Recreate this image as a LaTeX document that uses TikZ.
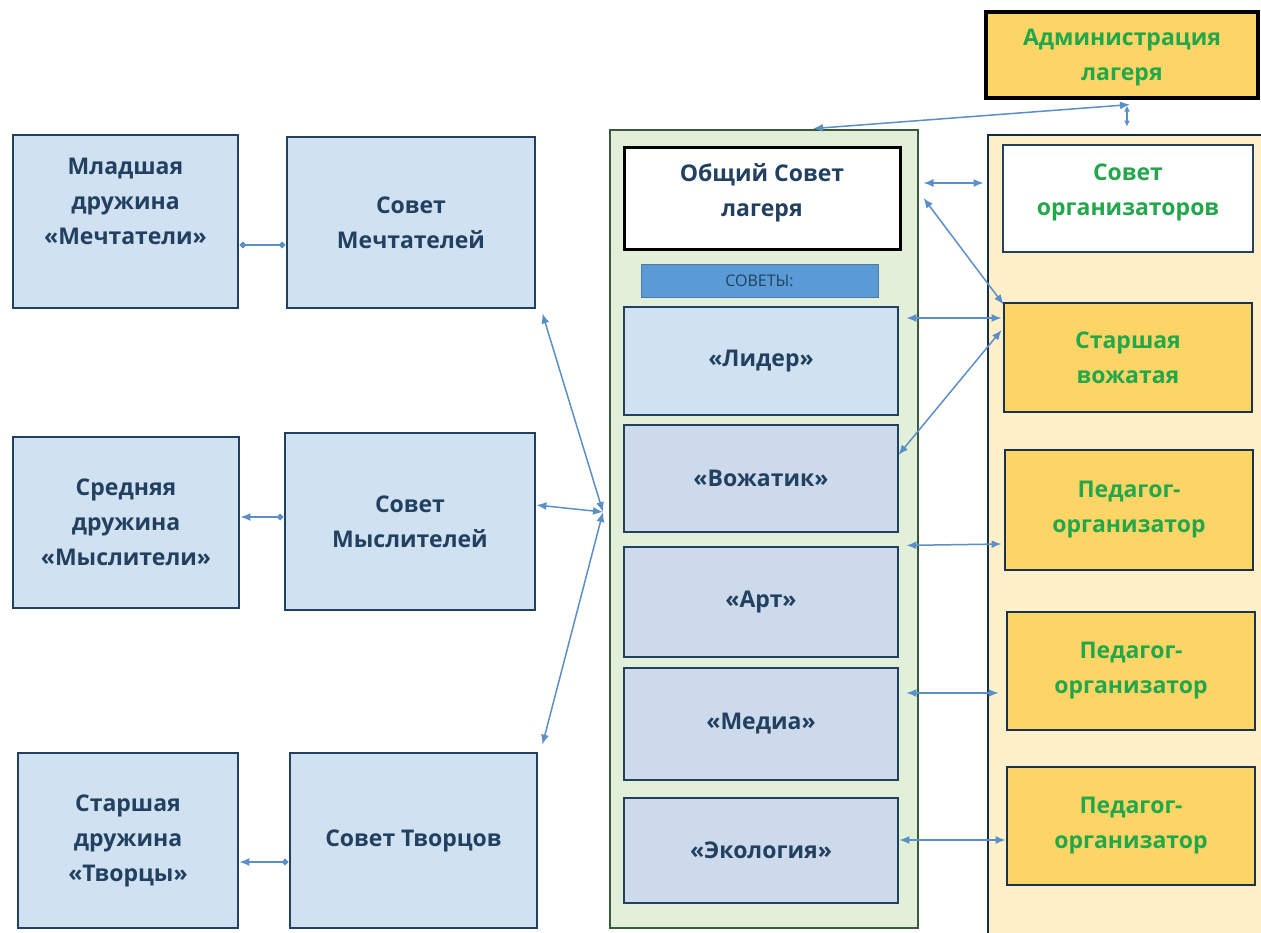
\documentclass[tikz,border=0pt]{standalone}
\usepackage{fontspec}
\setmainfont{Open Sans}
\usetikzlibrary{arrows.meta}
\definecolor{navy}{HTML}{22405F}
\definecolor{boxblue}{HTML}{D0E1F2}
\definecolor{boxgrey}{HTML}{CCDAEB}
\definecolor{greenfill}{HTML}{E2EFD9}
\definecolor{greenline}{HTML}{3A5A3C}
\definecolor{yellowfill}{HTML}{FFF0CA}
\definecolor{orangefill}{HTML}{FDD466}
\definecolor{greentext}{HTML}{22A84A}
\definecolor{barblue}{HTML}{5B9BD5}
\definecolor{arrowblue}{HTML}{5B8FC9}
\tikzset{
  bluebox/.style={draw=navy, line width=2.8pt, fill=boxblue, align=center, text=navy,
    font=\fontsize{23}{35}\selectfont\bfseries, inner sep=0pt},
  greybox/.style={bluebox, fill=boxgrey},
  whitebox/.style={draw=black, line width=3pt, fill=white, align=center,
    font=\fontsize{23}{35}\selectfont\bfseries, inner sep=0pt},
  orangebox/.style={draw=navy!80!black, line width=2.8pt, fill=orangefill, align=center, text=greentext,
    font=\fontsize{23}{35}\selectfont\bfseries, inner sep=0pt},
  tipA/.tip={Latex[length=10pt,width=8pt]},
  tipS/.tip={Latex[length=6pt,width=6pt]},
  tipD/.tip={Diamond[length=7pt,width=7pt]},
  conn/.style={draw=arrowblue, line width=1.5pt, tipA-tipA},
  connshort/.style={draw=arrowblue, line width=1.5pt, tipS-tipS},
  conndd/.style={draw=arrowblue, line width=1.5pt, tipD-tipD},
  conndl/.style={draw=arrowblue, line width=1.5pt, tipA-tipD},
}
\begin{document}
\begin{tikzpicture}[x=1pt,y=-1pt]
\useasboundingbox (0,0) rectangle (1261,933);
\clip (0,0) rectangle (1261,933);
\fill[white] (0,0) rectangle (1261,933);

% containers
\node[draw=greenline, line width=2.8pt, fill=greenfill, minimum width=308pt, minimum height=798pt, inner sep=0pt] (greenC) at (764,529) {};
\node[draw=navy!70!black, line width=2.8pt, fill=yellowfill, minimum width=287pt, minimum height=810pt, inner sep=0pt] (yellowC) at (1131.5,540) {};

% left column
\node[bluebox, minimum width=225pt, minimum height=173pt, text depth=40pt] (mlad) at (125.5,221.5) {Младшая\\дружина\\«Мечтатели»};
\node[bluebox, minimum width=248pt, minimum height=171pt] (sovM) at (411,222.5) {Совет\\Мечтателей};
\node[bluebox, minimum width=226pt, minimum height=171pt] (sred) at (126,522.5) {Средняя\\дружина\\«Мыслители»};
\node[bluebox, minimum width=250pt, minimum height=177pt] (sovMy) at (410,521.5) {Совет\\Мыслителей};
\node[bluebox, minimum width=220pt, minimum height=175pt] (star) at (128,840.5) {Старшая\\дружина\\«Творцы»};
\node[bluebox, minimum width=247pt, minimum height=175pt] (sovT) at (413.5,840.5) {Совет Творцов};

% centre column
\node[whitebox, text=navy, minimum width=276pt, minimum height=102pt, text depth=18pt] (obsh) at (762,199) {Общий Совет\\лагеря};
\node[fill=barblue, draw=barblue!80!black, line width=0.6pt, minimum width=237pt, minimum height=33pt, inner sep=0pt, text=navy, font=\fontsize{16}{18}\selectfont] (sovety) at (759.5,280.5) {СОВЕТЫ:};
\node[bluebox, minimum width=274pt, minimum height=108pt] (lider) at (761,361) {«Лидер»};
\node[greybox, minimum width=274pt, minimum height=107pt] (vozh) at (761,478.5) {«Вожатик»};
\node[greybox, minimum width=274pt, minimum height=110pt] (art) at (761,602) {«Арт»};
\node[greybox, minimum width=274pt, minimum height=112pt] (media) at (761,724) {«Медиа»};
\node[greybox, minimum width=274pt, minimum height=105pt] (eco) at (761,850.5) {«Экология»};

% right column
\node[orangebox, draw=black, line width=3.2pt, minimum width=272pt, minimum height=86pt, text depth=0pt] (admin) at (1122,55) {Администрация\\лагеря};
\node[whitebox, draw=navy, line width=2.8pt, text=greentext, minimum width=250pt, minimum height=107pt, text depth=18pt] (sovOrg) at (1128,198.5) {Совет\\организаторов};
\node[orangebox, minimum width=248pt, minimum height=109pt] (stVozh) at (1128,357.5) {Старшая\\вожатая};
\node[orangebox, minimum width=248pt, minimum height=120pt] (ped1) at (1129,510) {Педагог-\\организатор};
\node[orangebox, minimum width=248pt, minimum height=118pt] (ped2) at (1131,671) {Педагог-\\организатор};
\node[orangebox, minimum width=248pt, minimum height=118pt] (ped3) at (1131,826) {Педагог-\\организатор};

% hub where the left connectors meet
\coordinate (hub) at (603,512);

% connectors, left
\draw[conndd] ([yshift=-23.5pt]mlad.east) -- ([yshift=-22.5pt]sovM.west);
\draw[conndl] ([yshift=5.5pt]sred.east) -- ([yshift=4.5pt]sovMy.west);
\draw[conndl] ([yshift=-21.5pt]star.east) -- ([yshift=-21.5pt]sovT.west);
\draw[conn] ([shift={(6,4)}]sovM.south east) -- (hub);
\draw[conn] ([yshift=16.5pt]sovMy.east) -- (hub);
\draw[conn] ([shift={(4,-7)}]sovT.north east) -- (hub);

% connectors, top
\draw[conn] ([shift={(8,5)}]admin.south) -- ([xshift=49pt]greenC.north);
\draw[connshort] ([shift={(5,6)}]admin.south) -- ([shift={(-4.5,-7)}]yellowC.north);

% connectors, right
\draw[conn] ([shift={(22,-16)}]obsh.east) -- ([shift={(-18,-15.5)}]sovOrg.west);
\draw[conn] ([shift={(22,-1)}]obsh.east) -- ([shift={(1,3)}]stVozh.north west);
\draw[conn] ([shift={(7,-43)}]lider.east) -- ([shift={(-1,-39.5)}]stVozh.west);
\draw[conn] ([shift={(-1,-23.5)}]vozh.east) -- ([shift={(-1,-27.5)}]stVozh.west);
\draw[conn] ([shift={(7,12)}]vozh.south east) -- ([shift={(-2,34)}]ped1.west);
\draw[conn] ([shift={(7,-31)}]media.east) -- ([shift={(-7,22)}]ped2.west);
\draw[conn] ([shift={(0,-10.5)}]eco.east) -- ([shift={(0,14)}]ped3.west);
\end{tikzpicture}
\end{document}
